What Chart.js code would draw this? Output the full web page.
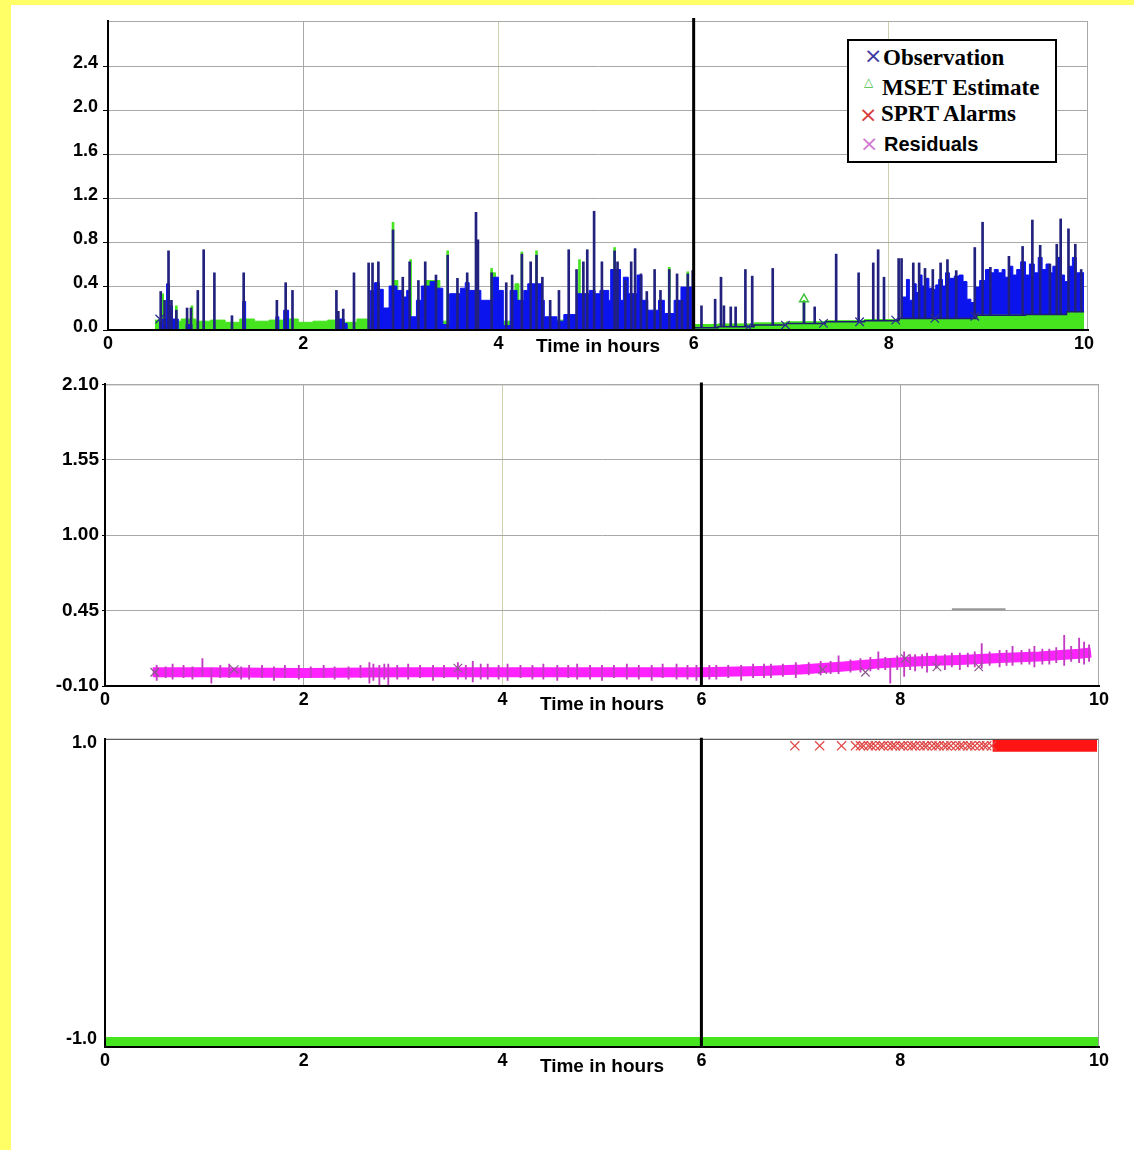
<!DOCTYPE html>
<html>
<head>
<meta charset="utf-8">
<title>MSET / SPRT monitoring</title>
<script src="https://cdn.jsdelivr.net/npm/chart.js"></script>
<style>
  html, body { margin: 0; padding: 0; background: #fff; }
  body { position: relative; width: 1134px; height: 1150px; overflow: hidden; }
  .band-left { position: absolute; left: 0; top: 0; width: 11px; height: 1150px; background: #ffff66; }
  .band-top { position: absolute; left: 0; top: 0; width: 1134px; height: 5px; background: #ffff66; }
  canvas { position: absolute; left: 11px; }
  #legend { position: absolute; left: 847px; top: 39px; width: 206px; height: 120px; border: 2px solid #000; background: #fff; }
  #legend span { position: absolute; white-space: nowrap; line-height: 1; }
</style>
</head>
<body>
<div class="band-left"></div>
<div class="band-top"></div>
<canvas id="obsChart" width="1123" height="365" style="top:5px"></canvas>
<canvas id="resChart" width="1123" height="350" style="top:370px"></canvas>
<canvas id="sprtChart" width="1123" height="430" style="top:720px"></canvas>
<div id="legend"></div>
<script>
// shared axis values
const hourTicks = [0, 2, 4, 6, 8, 10];
const cutoverHour = 6;
const obsTicks = [0.0, 0.4, 0.8, 1.2, 1.6, 2.0, 2.4];
const resTicks = [-0.10, 0.45, 1.00, 1.55, 2.10];
const sprtTicks = [-1.0, 1.0];

const legendNames = ['Observation', 'MSET Estimate', 'SPRT Alarms', 'Residuals'];
const legendColors = ['#3a3aa0', '#3cc03c', '#d83c3c', '#d27ad2'];

// panel 1: observation (blue) - solid body before the cut-over, [hour, value]
const obsBody = [[0.50,0],[0.53,0.10],[0.60,0.42],[0.63,0.22],[0.66,0.10],[0.72,0],[0.80,0.05],[0.86,0],
  [1.38,0.26],[1.41,0],[1.72,0.12],[1.75,0],[1.80,0.18],[1.85,0],[2.35,0.10],[2.42,0.06],[2.45,0],
  [2.69,0.36],[2.73,0.43],[2.78,0.37],[2.82,0.20],[2.88,0.40],[2.96,0.36],[3.01,0.30],[3.06,0.36],[3.09,0.12],
  [3.16,0.27],[3.21,0.40],[3.30,0.44],[3.36,0.38],[3.43,0.05],[3.50,0.33],[3.61,0.38],[3.66,0.43],[3.70,0.36],
  [3.82,0.27],[3.95,0.48],[4.00,0.36],[4.05,0.04],[4.12,0.36],[4.19,0.27],[4.26,0.36],[4.30,0.42],[4.44,0.27],
  [4.47,0.12],[4.60,0.08],[4.67,0.14],[4.80,0.33],[4.93,0.36],[4.99,0.33],[5.04,0.36],[5.13,0.27],[5.15,0.55],
  [5.25,0.27],[5.28,0.48],[5.33,0.33],[5.42,0.50],[5.47,0.27],[5.53,0.18],[5.64,0.27],[5.70,0.15],[5.80,0.27],
  [5.87,0.39],[5.99,0]];
// observation body after the drift sets in
const obsLate = [[8.13,0.30],[8.18,0.46],[8.21,0.27],[8.25,0.42],[8.28,0.34],[8.31,0.50],[8.34,0.40],[8.37,0.47],
  [8.41,0.38],[8.45,0.37],[8.48,0.41],[8.51,0.46],[8.55,0.40],[8.58,0.52],[8.62,0.47],[8.67,0.49],[8.72,0.50],
  [8.76,0.44],[8.80,0.28],[8.84,0.25],[8.89,0.39],[8.93,0.45],[8.99,0.55],[9.04,0.52],[9.08,0.55],[9.12,0.52],
  [9.16,0.55],[9.19,0.48],[9.23,0.58],[9.27,0.50],[9.31,0.55],[9.35,0.62],[9.40,0.50],[9.44,0.60],[9.49,0.52],
  [9.53,0.66],[9.57,0.55],[9.61,0.60],[9.65,0.52],[9.68,0.58],[9.72,0.66],[9.76,0.50],[9.80,0.44],[9.84,0.58],
  [9.88,0.66],[9.92,0.52],[9.96,0.52],[10.0,0.52]];
const obsBase = [[6.00,0.02],[6.25,0.03],[6.62,0.045],[6.95,0.06],[7.35,0.075],[7.75,0.085],[8.10,0.105],
  [8.90,0.135],[9.40,0.14],[9.82,0.165],[10.0,0.165]];
const obsMarks = [[0.53,0.10],[6.56,0.03],[6.94,0.045],[7.33,0.06],[7.70,0.075],[8.07,0.09],[8.47,0.105],[8.88,0.125]];
// spikes: [hour, top] from zero, or [hour, bottom, top] once the baseline drifts
const obsSpikes = [[0.54,0.35],[0.58,0.27],[0.62,0.72],[0.65,0.27],[0.70,0.18],[0.81,0.20],[0.85,0.20],[0.92,0.36],
  [0.98,0.73],[1.09,0.52],[1.27,0.13],[1.39,0.52],[1.73,0.27],[1.82,0.43],[1.89,0.36],[2.34,0.36],[2.36,0.17],
  [2.41,0.19],[2.52,0.52],[2.67,0.61],[2.71,0.61],[2.77,0.62],[2.92,0.91],[3.02,0.48],[3.09,0.62],[3.18,0.45],
  [3.25,0.62],[3.36,0.50],[3.48,0.68],[3.58,0.47],[3.68,0.52],[3.77,1.07],[3.79,0.82],[3.93,0.52],[4.08,0.43],
  [4.14,0.50],[4.24,0.69],[4.33,0.62],[4.39,0.68],[4.45,0.48],[4.53,0.27],[4.62,0.36],[4.72,0.73],[4.80,0.55],
  [4.87,0.62],[4.91,0.73],[4.98,1.08],[5.06,0.62],[5.19,0.72],[5.22,0.62],[5.30,0.45],[5.36,0.62],[5.40,0.74],
  [5.46,0.51],[5.52,0.35],[5.60,0.55],[5.66,0.36],[5.75,0.55],[5.83,0.51],[5.88,0.27],[5.94,0.51],[5.99,0.54],
  [6.08,0.02,0.22],[6.22,0.02,0.28],[6.28,0.03,0.48],[6.31,0.03,0.22],[6.38,0.03,0.21],[6.43,0.03,0.21],
  [6.53,0.03,0.55],[6.60,0.03,0.49],[6.81,0.045,0.56],[7.13,0.06,0.26],[7.24,0.06,0.21],[7.46,0.075,0.69],
  [7.69,0.075,0.52],[7.84,0.085,0.61],[7.89,0.085,0.73],[7.95,0.085,0.48],[8.10,0.09,0.65],[8.13,0.105,0.65],
  [8.25,0.105,0.61],[8.31,0.105,0.61],[8.37,0.105,0.56],[8.45,0.105,0.55],[8.53,0.105,0.61],[8.60,0.105,0.64],
  [8.69,0.105,0.54],[8.88,0.105,0.75],[8.96,0.135,0.98],[9.04,0.135,0.57],[9.23,0.135,0.67],[9.37,0.135,0.76],
  [9.47,0.14,1.00],[9.55,0.14,0.77],[9.65,0.14,0.60],[9.72,0.14,0.78],[9.76,0.14,1.01],[9.84,0.165,0.92],
  [9.91,0.165,0.78],[9.97,0.165,0.55]];

// MSET estimate (green)
const msetFill = [[0.48,0.09],[0.62,0.08],[0.75,0.10],[0.90,0.08],[1.05,0.09],[1.20,0.07],[1.35,0.10],[1.50,0.08],
  [1.65,0.09],[1.80,0.10],[1.95,0.07],[2.10,0.08],[2.25,0.09],[2.40,0.07],[2.55,0.10],[2.68,0.08],[2.93,0.45],
  [2.97,0.08],[3.25,0.45],[3.40,0.08],[3.93,0.52],[3.97,0.08],[4.17,0.42],[4.21,0.08],[4.60,0.09],[5.00,0.07],
  [5.50,0.06],[6.00,0.05],[6.25,0.055],[6.62,0.065],[6.95,0.075],[7.35,0.085],[7.75,0.095],[8.10,0.105],
  [8.90,0.135],[9.40,0.14],[9.82,0.165],[10.0,0.165]];
const msetSpikes = [[0.56,0.33],[0.70,0.22],[0.86,0.22],[2.92,0.98],[3.10,0.64],[3.48,0.72],[3.93,0.56],[4.24,0.71],
  [4.39,0.72],[4.83,0.64],[5.19,0.75],[5.75,0.57],[5.94,0.53],[7.13,0.27]];
const msetMarks = [[7.13,0.28]];

// panel 2: residuals
const resTrend = [[0.48,0.0],[1.0,0.0],[2.0,-0.005],[3.0,0.0],[4.0,0.0],[5.0,0.0],[6.0,0.0],[6.6,0.01],[7.0,0.02],
  [7.4,0.04],[7.8,0.065],[8.2,0.08],[8.6,0.09],[9.0,0.105],[9.4,0.115],[9.8,0.135],[9.92,0.145]];
// [hour, low, high]
const resSpikes = [[0.52,-0.06,0.05],[0.61,-0.04,0.04],[0.68,-0.05,0.06],[0.79,-0.04,0.05],[0.88,-0.05,0.04],
  [0.98,-0.03,0.10],[1.07,-0.08,0.03],[1.16,-0.04,0.05],[1.25,-0.04,0.06],[1.37,-0.05,0.04],[1.45,-0.05,0.05],
  [1.58,-0.04,0.05],[1.70,-0.06,0.04],[1.81,-0.04,0.05],[1.95,-0.05,0.05],[2.07,-0.04,0.04],[2.20,-0.04,0.05],
  [2.31,-0.05,0.04],[2.45,-0.05,0.04],[2.57,-0.04,0.05],[2.66,-0.08,0.07],[2.70,-0.06,0.06],[2.76,-0.09,0.05],
  [2.81,-0.05,0.06],[2.85,-0.09,0.06],[2.94,-0.05,0.05],[3.05,-0.05,0.06],[3.17,-0.04,0.05],[3.30,-0.06,0.05],
  [3.41,-0.04,0.05],[3.55,-0.05,0.07],[3.63,-0.05,0.05],[3.70,-0.07,0.08],[3.78,-0.05,0.06],[3.85,-0.05,0.06],
  [3.96,-0.05,0.05],[4.05,-0.06,0.06],[4.18,-0.04,0.05],[4.30,-0.05,0.05],[4.41,-0.05,0.06],[4.55,-0.06,0.05],
  [4.66,-0.04,0.05],[4.75,-0.05,0.06],[4.88,-0.05,0.05],[5.00,-0.06,0.05],[5.12,-0.04,0.05],[5.25,-0.05,0.06],
  [5.37,-0.05,0.05],[5.50,-0.06,0.05],[5.61,-0.04,0.06],[5.75,-0.05,0.06],[5.86,-0.05,0.05],[5.95,-0.06,0.05],
  [6.08,-0.05,0.05],[6.15,-0.05,0.05],[6.27,-0.04,0.05],[6.40,-0.06,0.05],[6.52,-0.04,0.06],[6.63,-0.04,0.06],
  [6.70,-0.04,0.06],[6.82,-0.03,0.06],[6.95,-0.04,0.07],[7.08,-0.02,0.07],[7.20,-0.02,0.08],[7.30,-0.01,0.08],
  [7.38,-0.01,0.12],[7.50,0.00,0.09],[7.60,0.00,0.10],[7.70,0.01,0.11],[7.78,0.02,0.15],[7.85,0.02,0.11],
  [7.90,-0.08,0.10],[7.97,0.02,0.12],[8.04,-0.03,0.15],[8.10,0.02,0.13],[8.15,0.01,0.13],[8.22,0.03,0.13],
  [8.27,0.00,0.14],[8.36,0.03,0.13],[8.45,0.02,0.13],[8.52,0.04,0.14],[8.60,0.02,0.14],[8.68,0.04,0.14],
  [8.75,0.04,0.15],[8.82,0.03,0.21],[8.90,0.05,0.15],[9.00,0.04,0.16],[9.07,0.05,0.16],[9.13,0.05,0.19],
  [9.22,0.06,0.16],[9.30,0.06,0.17],[9.35,0.04,0.19],[9.43,0.06,0.17],[9.50,0.06,0.17],[9.57,0.07,0.18],
  [9.65,0.05,0.27],[9.72,0.08,0.19],[9.80,0.07,0.25],[9.85,0.06,0.22],[9.90,0.08,0.20]];
const resMarks = [[0.50,0.00],[1.30,0.02],[3.55,0.03],[7.22,0.02],[7.65,0.00],[8.05,0.10],[8.37,0.04],[8.79,0.04]];
const gridMark = [[8.52,0.46],[9.06,0.46]];

// panel 3: SPRT decisions
const alarmLevel = 1.0;
const normalLevel = -1.0;
const alarmT = [6.94, 7.19, 7.41, 7.55, 7.60, 7.63, 7.68, 7.71, 7.75, 7.80, 7.83, 7.88, 7.92, 7.95, 8.00, 8.03, 8.08,
  8.12, 8.15, 8.20, 8.24, 8.27, 8.32, 8.36, 8.39, 8.44, 8.47, 8.51, 8.56, 8.60, 8.63, 8.68, 8.71, 8.75, 8.80, 8.84,
  8.87, 8.92];
const alarmRun = [8.93, 9.98];
const normalRun = [0, 10];

const fontSans = '"Liberation Sans", Arial, sans-serif';
const clear = 'rgba(0,0,0,0)';

const xy = (pairs) => pairs.map(p => ({x: p[0], y: p[1]}));
const stems = (rows) => rows.map(r => ({x: r[0], y: r.length > 2 ? [r[1], r[2]] : [0, r[1]]}));

function stepFill(pairs, color, order) {
  return {type: 'line', data: xy(pairs), stepped: true, fill: 'origin', backgroundColor: color,
    borderColor: color, borderWidth: 1, pointRadius: 0, order: order};
}
function stemSet(rows, color, width, order) {
  return {type: 'bar', data: stems(rows), backgroundColor: color, borderWidth: 0,
    barThickness: width, grouped: false, order: order};
}
function markSet(pairs, style, color, radius, width, order) {
  return {type: 'line', data: xy(pairs), showLine: false, pointStyle: style, pointRadius: radius,
    pointBorderColor: color, pointBackgroundColor: clear, pointBorderWidth: width, order: order};
}
function runLine(hours, level, color, width, order) {
  return {type: 'line', data: hours.map(h => ({x: h, y: level})), borderColor: color, borderWidth: width,
    borderCapStyle: 'butt', pointRadius: 0, fill: false, order: order};
}

function hourAxis(max, height, titlePad, olive, grid) {
  return {
    type: 'linear', min: 0, max: max, offset: false,
    afterBuildTicks: s => { s.ticks = hourTicks.map(v => ({value: v})); },
    afterFit: s => { s.height = height; },
    ticks: {color: '#000', padding: 3, maxRotation: 0, autoSkip: false,
      font: {family: fontSans, size: 18, weight: 'bold'}, callback: v => String(v)},
    grid: {offset: false, drawTicks: false, color: c => {
      const v = c.tick ? c.tick.value : null;
      if (!grid || v === 0 || v === 10 || v === cutoverHour) return clear;
      return olive.includes(v) ? '#cfcfae' : '#a8a8a8';
    }},
    border: {color: '#000', width: 2, z: 1},
    title: {display: true, text: 'Time in hours', color: '#000',
      font: {family: fontSans, size: 19, weight: 'bold'}, padding: {top: 0, bottom: titlePad}}
  };
}
function valueAxis(o) {
  return {
    type: 'linear', min: o.min, max: o.max,
    afterBuildTicks: s => { s.ticks = o.ticks.map(v => ({value: v})); },
    afterFit: s => { s.width = o.width; },
    ticks: {color: '#000', padding: o.pad, labelOffset: o.labelOffset, autoSkip: false,
      font: {family: fontSans, size: o.size, weight: 'bold'}, callback: v => v.toFixed(o.decimals)},
    grid: {color: c => (o.grid && c.tick && c.tick.value !== o.min) ? '#a8a8a8' : clear,
      tickColor: '#000', tickLength: o.tickLen, drawTicks: o.tickLen > 0},
    border: {color: '#000', width: 2, z: 1}
  };
}

// plot frame (top / right edges) and the cut-over marker
const framePlugin = {
  id: 'frame',
  afterDatasetsDraw(chart, args, opts) {
    const {ctx, chartArea: a} = chart;
    ctx.save();
    ctx.lineWidth = 1;
    ctx.strokeStyle = opts.topColor;
    ctx.beginPath(); ctx.moveTo(a.left, a.top + 0.5); ctx.lineTo(a.right, a.top + 0.5); ctx.stroke();
    ctx.strokeStyle = opts.rightColor;
    ctx.beginPath(); ctx.moveTo(a.right - 0.5, a.top); ctx.lineTo(a.right - 0.5, a.bottom); ctx.stroke();
    const cx = chart.scales.x.getPixelForValue(cutoverHour);
    ctx.strokeStyle = '#000';
    ctx.lineWidth = 3;
    ctx.beginPath(); ctx.moveTo(cx, a.top - opts.overshoot); ctx.lineTo(cx, a.bottom); ctx.stroke();
    ctx.restore();
  }
};

function baseOptions(padding, frame, x, y) {
  return {
    responsive: false, animation: false, devicePixelRatio: 1, events: [],
    layout: {padding: padding},
    plugins: {legend: {display: false}, tooltip: {enabled: false}, frame: frame},
    scales: {x: x, y: y}
  };
}

new Chart(document.getElementById('obsChart'), {
  type: 'line',
  data: {datasets: [
    markSet(msetMarks, 'triangle', '#3cc03c', 5, 1.5, 1),
    markSet(obsMarks, 'crossRot', '#2a2a90', 6, 1.2, 2),
    {type: 'line', data: xy(obsBase), stepped: true, borderColor: '#1c1c70', borderWidth: 1.5,
      pointRadius: 0, fill: false, order: 3},
    stemSet(obsSpikes, '#22227e', 2, 4),
    stepFill(obsBody, '#0c14ee', 5),
    stemSet(msetSpikes, '#46e31f', 2, 6),
    stepFill(msetFill, '#46e31f', 7),
    stepFill(obsLate, '#0c14ee', 8)
  ]},
  options: baseOptions({left: 0, right: 46, top: 16, bottom: 0},
    {topColor: '#a8a8a8', rightColor: '#a8a8a8', overshoot: 3},
    hourAxis(10.04, 40, 11.6, [4, 8], true),
    valueAxis({min: 0, max: 2.81, ticks: obsTicks, decimals: 1, width: 97, size: 18, pad: 5,
      tickLen: 5, labelOffset: -3, grid: true})),
  plugins: [framePlugin]
});

new Chart(document.getElementById('resChart'), {
  type: 'line',
  data: {datasets: [
    markSet(resMarks, 'crossRot', '#8a5a8a', 6, 1.2, 1),
    stemSet(resSpikes, '#c23cc2', 1.2, 2),
    {type: 'line', data: xy(resTrend), borderColor: '#ff22ff', borderWidth: 10, borderCapStyle: 'butt',
      pointRadius: 0, fill: false, order: 3},
    {type: 'line', data: xy(gridMark), borderColor: '#999', borderWidth: 2, pointRadius: 0, fill: false, order: 4}
  ]},
  options: baseOptions({left: 0, right: 35, top: 14, bottom: 0},
    {topColor: '#a8a8a8', rightColor: '#a8a8a8', overshoot: 2},
    hourAxis(10, 34, 3.6, [4], true),
    valueAxis({min: -0.10, max: 2.10, ticks: resTicks, decimals: 2, width: 94, size: 19, pad: 3,
      tickLen: 3, labelOffset: 0, grid: true})),
  plugins: [framePlugin]
});

new Chart(document.getElementById('sprtChart'), {
  type: 'line',
  data: {datasets: [
    markSet(alarmT.map(t => [t, alarmLevel]), 'crossRot', '#e04848', 6.5, 1.3, 1),
    runLine(alarmRun, alarmLevel, '#ff1414', 12, 2),
    runLine(normalRun, normalLevel, '#46e31f', 10, 3)
  ]},
  options: baseOptions({left: 0, right: 35, top: 14, bottom: 69},
    {topColor: '#333', rightColor: '#999', overshoot: 1},
    hourAxis(10, 34, 2.6, [], false),
    valueAxis({min: -1.033, max: 1.047, ticks: sprtTicks, decimals: 1, width: 94, size: 18, pad: 8,
      tickLen: 0, labelOffset: -3, grid: false})),
  plugins: [framePlugin]
});

// legend box (covers all three panels)
(function buildLegend() {
  const box = document.getElementById('legend');
  const marks = ['\u00d7', '\u25b3', '\u00d7', '\u00d7'];
  const markPos = [[15, 2, 22], [15, 34, 12], [10, 61, 22], [11, 90, 22]];
  const textPos = [[34, 4], [33, 34], [32, 60], [35, 92]];
  const textFont = ['bold 23px "Liberation Serif", serif', 'bold 23px "Liberation Serif", serif',
    'bold 23px "Liberation Serif", serif', 'bold 20px "Liberation Sans", sans-serif'];
  legendNames.forEach((name, i) => {
    const m = document.createElement('span');
    m.textContent = marks[i];
    m.style.cssText = `left:${markPos[i][0]}px;top:${markPos[i][1]}px;font:${markPos[i][2]}px "DejaVu Sans",sans-serif;color:${legendColors[i]}`;
    box.appendChild(m);
    const t = document.createElement('span');
    t.textContent = name;
    t.style.cssText = `left:${textPos[i][0]}px;top:${textPos[i][1]}px;font:${textFont[i]};color:#000`;
    box.appendChild(t);
  });
})();
</script>
</body>
</html>
